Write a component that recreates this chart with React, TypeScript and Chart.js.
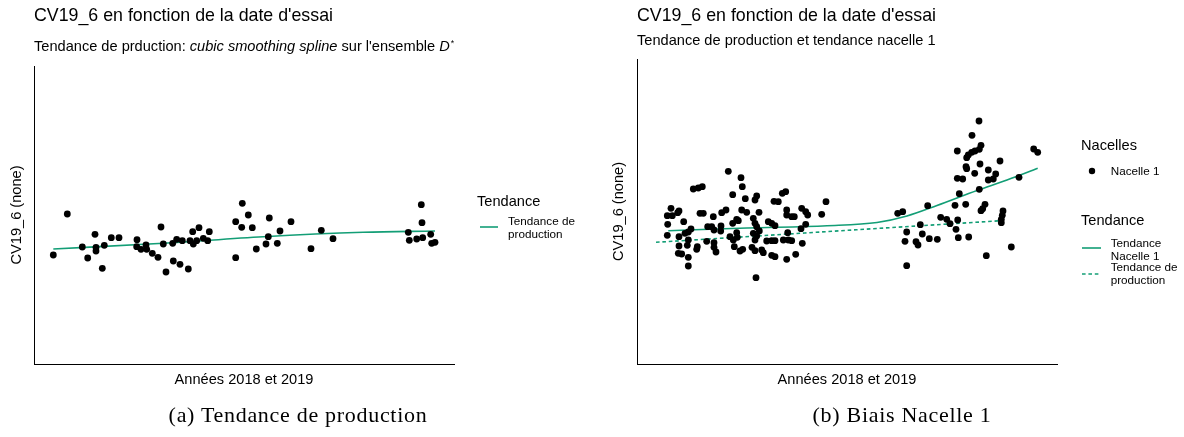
import React, { useEffect, useRef } from 'react';
import { Chart, registerables } from 'chart.js';

Chart.register(...registerables);

// ---------------- data (arbitrary units) ----------------
// Panel (a): CV19_6 vs test date, production trend only
const dateA = [19.3, 33.3, 48.3, 53.7, 61, 62, 62, 68.3, 70.3, 77.3, 85, 103, 102.7, 107, 112, 112.7, 118.3, 124, 127, 129.3, 132, 139.3, 138.7, 142.7, 146, 148.3, 154.3, 156, 158.7, 159.3, 162.7, 165, 169.3, 173.7, 175.3, 201.7, 201.7, 208.3, 207.7, 214.3, 218.3, 222.3, 232, 234.3, 235.3, 243.3, 246, 257, 277, 287.3, 299, 374.3, 375.3, 382.7, 387.3, 388, 388.7, 396.7, 397.7, 401];
const cvA = [109, 150, 117, 106, 129.7, 116.7, 113, 95.7, 118.7, 126.3, 126.3, 124.3, 117.3, 114.7, 119, 114.7, 110.7, 106.7, 137, 120, 92, 103, 120.7, 124.7, 99.7, 123.3, 95, 123.3, 132.3, 120, 123.3, 136.3, 125.7, 123.3, 132.3, 142.3, 106.3, 160.7, 136.7, 149, 136.3, 115, 120, 127.3, 146, 120.7, 133, 142.3, 115.3, 133.7, 125.3, 131.7, 123.7, 125, 159.3, 141.3, 126.3, 129.7, 120.7, 121.7];
const prodTrendDateA = [19.3, 129.3, 229.3, 329.3, 401];
const prodTrendA = [115, 120.7, 127.3, 131.7, 133];

// Panel (b): Nacelle 1 points, nacelle trend and production trend
const dateB = [91.3, 104, 105.3, 95.7, 108.3, 119.7, 118, 56.3, 61.3, 65.3, 148.7, 145.3, 137, 141.3, 189, 34, 30.3, 35.3, 40.7, 42, 30.7, 30.3, 46.7, 54, 63, 66.3, 76.3, 84.7, 89, 95.7, 101.3, 99.7, 104.7, 109.7, 122, 116.3, 118, 119.7, 122.3, 131.3, 134.7, 138, 149.7, 149.7, 154.7, 157.3, 164.7, 168.7, 170.7, 184.7, 168.7, 164, 70.7, 74.7, 77, 84, 83.7, 93, 99.7, 100.3, 96.3, 116.3, 119.7, 118, 129.7, 134.7, 138, 146.3, 150.7, 151.3, 154.7, 165.3, 42, 48, 51.3, 51.3, 50.3, 42, 60.3, 59.7, 69.7, 77, 77, 79, 97.3, 103, 105.7, 115, 118, 124.7, 126.3, 134.7, 138, 149.7, 158.7, 41.3, 44.7, 51.3, 51.3, 119,
  342, 335, 344, 342.3, 338, 334.7, 331.3, 329.7, 320.3, 363, 343, 329, 329.7, 337.7, 351.3, 358.7, 356.3, 351.3, 320.3, 325.7, 322.3, 342.3, 382, 396.7, 400.7, 260.7, 265.7, 290.7, 318, 328.7, 348, 345.7, 344, 303.7, 309.7, 313, 320.7, 283.3, 269.7, 285.3, 319, 321.3, 331.7, 292.3, 300.3, 268, 279, 281, 366, 365.3, 364.3, 364.3, 269.7, 349.3, 374.3];
const cvB = [192.7, 186.3, 177.3, 169.3, 165.3, 168, 164, 175, 176, 177.3, 172.3, 170.7, 162.7, 162.3, 162.3, 155.7, 148.3, 148.3, 151.3, 153, 139.7, 128.7, 142.3, 135, 150.7, 150.7, 147.3, 151.3, 154, 140.7, 143.3, 144.7, 154, 151.7, 151.7, 145.7, 140.7, 137.3, 133, 142.3, 140.7, 138.3, 154, 149, 147.3, 147.3, 155.7, 152.3, 149, 149.7, 139.7, 135.3, 137.3, 137.3, 134, 138, 133, 127.3, 131.3, 126.7, 124, 130.7, 128, 124, 123, 123.3, 123.3, 124, 131.3, 124, 123.3, 120.7, 127.3, 130.7, 132, 124, 118.7, 118, 117.3, 114.7, 122.7, 121.3, 116.7, 112, 117.3, 113, 114.7, 116.7, 113.3, 114, 111.3, 108.7, 107.3, 104.7, 109.7, 110.7, 110, 106.7, 98, 86.3,
  243, 228.7, 218.7, 214.7, 213, 211.7, 209, 206.3, 213, 203, 200, 197.3, 195.3, 190.7, 194, 190, 185, 184, 185.7, 185, 170.3, 174.7, 186.7, 215, 211.7, 150.7, 152.3, 158.3, 158.7, 159.7, 159.7, 155.3, 153.3, 146.7, 144.7, 140.3, 144, 139.3, 132, 130, 134.7, 126.3, 127, 125.3, 124.7, 122.7, 122.3, 119, 153, 148.7, 144.7, 141.3, 98.3, 108.3, 117];
const nacelleTrendDateB = [31.3, 110, 190, 240, 270, 300, 340, 370, 400.7];
const nacelleTrendB = [133.3, 136, 138.3, 141.5, 148, 158.5, 173.5, 184, 195.7];
const prodTrendDateB = [19, 190, 364.3];
const prodTrendB = [121.7, 132.4, 143.3];

// ---------------- texts ----------------
const plotTitle = "CV19_6 en fonction de la date d'essai";
const subtitleB = 'Tendance de production et tendance nacelle 1';
const xAxisTitle = 'Années 2018 et 2019';
const yAxisTitle = 'CV19_6 (none)';
const trendLegendTitle = 'Tendance';
const nacelleLegendTitle = 'Nacelles';
const nacelleLabel = 'Nacelle 1';
const prodTrendLabel = ['Tendance de', 'production'];
const nacelleTrendLabel = ['Tendance', 'Nacelle 1'];
const captionA = '(a) Tendance de production';
const captionB = '(b) Biais Nacelle 1';

// ---------------- styles ----------------
const GREEN = '#139e76';
const SANS = '"Liberation Sans", Arial, Helvetica, sans-serif';
const SERIF = '"Liberation Serif", "Times New Roman", serif';
const DASH = [3.6, 2.8];

const zip = (xs: number[], ys: number[]) => xs.map((x, i) => ({ x, y: ys[i] }));

function makeConfig(opts: {
  points: { x: number; y: number }[];
  lines: { data: { x: number; y: number }[]; dash?: number[]; label: string }[];
  yMax: number;
  padTop: number;
  padRight: number;
  yWidth: number;
  yTitlePad: number;
}): any {
  const datasets: any[] = [
    {
      type: 'scatter',
      label: nacelleLabel,
      data: opts.points,
      pointRadius: 3.4,
      pointHoverRadius: 3.4,
      backgroundColor: '#000',
      borderWidth: 0,
    },
    ...opts.lines.map((l) => ({
      type: 'line',
      label: l.label,
      data: l.data,
      borderColor: GREEN,
      borderWidth: 1.6,
      borderDash: l.dash || [],
      pointRadius: 0,
      fill: false,
      cubicInterpolationMode: 'monotone',
    })),
  ];
  return {
    type: 'scatter',
    data: { datasets },
    options: {
      animation: false,
      responsive: false,
      events: [],
      layout: { autoPadding: false, padding: { left: 0, top: opts.padTop, right: opts.padRight, bottom: 43 } },
      plugins: { legend: { display: false }, title: { display: false }, tooltip: { enabled: false } },
      scales: {
        x: {
          type: 'linear',
          position: 'bottom',
          min: 0,
          max: 420,
          grid: { display: false, drawTicks: false },
          border: { display: true, color: '#000', width: 1 },
          ticks: { display: false },
          title: {
            display: true,
            text: xAxisTitle,
            color: '#000',
            font: { family: SANS, size: 14.6 },
            padding: { top: 0, bottom: 5.2 },
          },
          afterFit: (s: any) => {
            s.height = 30;
          },
        },
        y: {
          type: 'linear',
          position: 'left',
          min: 0,
          max: opts.yMax,
          grid: { display: false, drawTicks: false },
          border: { display: true, color: '#000', width: 1 },
          ticks: { display: false },
          title: {
            display: true,
            text: yAxisTitle,
            color: '#000',
            font: { family: SANS, size: 14.6 },
            padding: { top: opts.yTitlePad, bottom: 0 },
          },
          afterFit: (s: any) => {
            s.width = opts.yWidth;
          },
        },
      },
    },
  };
}

const abs = (left: number, top: number, extra: React.CSSProperties = {}): React.CSSProperties => ({
  position: 'absolute',
  left,
  top,
  whiteSpace: 'nowrap',
  lineHeight: 1,
  ...extra,
});

function KeyLine({ left, y, width, dash }: { left: number; y: number; width: number; dash?: number[] }) {
  return (
    <svg style={{ position: 'absolute', left, top: y - 3, overflow: 'visible' }} width={width} height={6}>
      <line x1={0} x2={width} y1={3} y2={3} stroke={GREEN} strokeWidth={1.6} strokeDasharray={dash ? dash.join(' ') : undefined} />
    </svg>
  );
}

function Lines({ left, top, lines }: { left: number; top: number; lines: string[] }) {
  return (
    <div style={{ position: 'absolute', left, top, fontSize: 11.7, lineHeight: '13px', whiteSpace: 'nowrap' }}>
      {lines.map((l, i) => (
        <div key={i}>{l}</div>
      ))}
    </div>
  );
}

export default function App() {
  const refA = useRef<HTMLCanvasElement>(null);
  const refB = useRef<HTMLCanvasElement>(null);

  useEffect(() => {
    const chartA = new Chart(
      refA.current as HTMLCanvasElement,
      makeConfig({
        points: zip(dateA, cvA),
        lines: [{ data: zip(prodTrendDateA, prodTrendA), label: prodTrendLabel.join(' ') }],
        yMax: 298,
        padTop: 66,
        padRight: 592 - 454,
        yWidth: 34,
        yTitlePad: 8.2,
      })
    );
    const chartB = new Chart(
      refB.current as HTMLCanvasElement,
      makeConfig({
        points: zip(dateB, cvB),
        lines: [
          { data: zip(nacelleTrendDateB, nacelleTrendB), label: nacelleTrendLabel.join(' ') },
          { data: zip(prodTrendDateB, prodTrendB), dash: DASH, label: prodTrendLabel.join(' ') },
        ],
        yMax: 305,
        padTop: 59,
        padRight: 584 - 457,
        yWidth: 37,
        yTitlePad: 10.2,
      })
    );
    return () => {
      chartA.destroy();
      chartB.destroy();
    };
  }, []);

  return (
    <div
      style={{
        position: 'absolute',
        left: 0,
        top: 0,
        width: 1184,
        height: 437,
        background: '#fff',
        color: '#000',
        fontFamily: SANS,
        overflow: 'hidden',
      }}
    >
      <canvas ref={refA} width={592} height={437} style={{ position: 'absolute', left: 0, top: 0, width: 592, height: 437 }} />
      <canvas ref={refB} width={584} height={437} style={{ position: 'absolute', left: 600, top: 0, width: 584, height: 437 }} />

      {/* Panel (a) titles */}
      <div style={abs(34, 7.1, { fontSize: 17.8 })}>{plotTitle}</div>
      <div style={abs(34, 39.2, { fontSize: 14.6 })}>
        Tendance de prduction: <i>cubic smoothing spline</i> sur l'ensemble <i>D</i>
        <span style={{ position: 'relative', top: '-0.6em', fontSize: '0.6em', marginLeft: 1 }}>*</span>
      </div>

      {/* Panel (a) legend */}
      <div style={abs(477, 193.7, { fontSize: 14.6 })}>{trendLegendTitle}</div>
      <KeyLine left={480} y={226.5} width={18} />
      <Lines left={508} top={213.5} lines={prodTrendLabel} />

      {/* Panel (b) titles */}
      <div style={abs(637, 7.1, { fontSize: 17.8 })}>{plotTitle}</div>
      <div style={abs(637, 32.7, { fontSize: 14.6 })}>{subtitleB}</div>

      {/* Panel (b) legend */}
      <div style={abs(1081, 137.7, { fontSize: 14.6 })}>{nacelleLegendTitle}</div>
      <svg style={{ position: 'absolute', left: 1088, top: 167 }} width={8} height={8}>
        <circle cx={4} cy={4} r={3.2} fill="#000" />
      </svg>
      <div style={abs(1110.7, 165.2, { fontSize: 11.7 })}>{nacelleLabel}</div>
      <div style={abs(1081, 212.7, { fontSize: 14.6 })}>{trendLegendTitle}</div>
      <KeyLine left={1082} y={247.7} width={19} />
      <Lines left={1110.7} top={236.3} lines={nacelleTrendLabel} />
      <KeyLine left={1082} y={274} width={19} dash={DASH} />
      <Lines left={1110.7} top={260.3} lines={prodTrendLabel} />

      {/* Captions */}
      <div style={abs(98, 403.8, { width: 400, textAlign: 'center', fontFamily: SERIF, fontSize: 22, letterSpacing: 0.7 })}>
        {captionA}
      </div>
      <div style={abs(702, 403.8, { width: 400, textAlign: 'center', fontFamily: SERIF, fontSize: 22, letterSpacing: 0.7 })}>
        {captionB}
      </div>
    </div>
  );
}
